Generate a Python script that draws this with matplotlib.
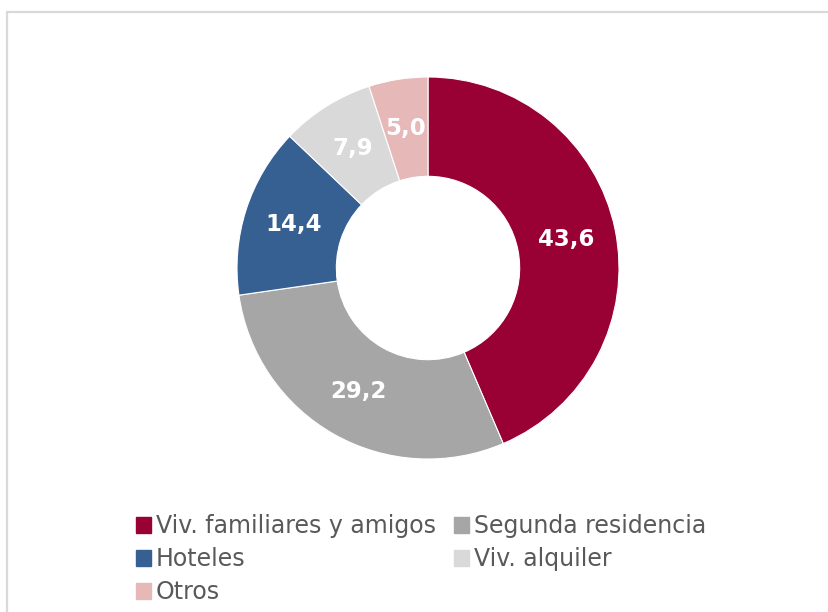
import numpy as np
import matplotlib.pyplot as plt
from matplotlib.patches import Patch, Rectangle

categories = ["Viv. familiares y amigos", "Segunda residencia", "Hoteles",
              "Viv. alquiler", "Otros"]
values = [43.6, 29.2, 14.4, 7.9, 5.0]
labels = ["43,6", "29,2", "14,4", "7,9", "5,0"]
colors = ["#990033", "#A6A6A6", "#376092", "#D9D9D9", "#E6B9B8"]

W, H = 829, 612
fig = plt.figure(figsize=(W / 100, H / 100), dpi=100)

# light grey frame, cut off at right and bottom like the source image
fig.patches.append(Rectangle((7 / W, -0.1), 1.1, 1 - 12 / H + 0.1,
                             transform=fig.transFigure, fill=False,
                             edgecolor="#D9D9D9", lw=1.6))

# donut: centre (428, 268) px, outer radius 191 px
cx, cy, r = 428, 268, 191
ax = fig.add_axes([(cx - r) / W, (H - cy - r) / H, 2 * r / W, 2 * r / H])
wedges, _ = ax.pie(values, colors=colors, startangle=90, counterclock=False,
                   radius=1, wedgeprops=dict(width=0.52, edgecolor="white",
                                             linewidth=0.8))
ax.set_xlim(-1, 1)
ax.set_ylim(-1, 1)
ax.set_aspect("equal")
ax.axis("off")

total = sum(values)
start = 90.0
for v, lab in zip(values, labels):
    ang = np.deg2rad(start - v / total * 360 / 2)
    ax.text(0.74 * np.cos(ang), 0.74 * np.sin(ang), lab, ha="center",
            va="center", color="white", fontsize=16.5, fontweight="bold")
    start -= v / total * 360

order = [0, 2, 4, 1, 3]
handles = [Patch(facecolor=colors[i], edgecolor=colors[i], joinstyle="round")
           for i in order]
fig.legend(handles, [categories[i] for i in order], ncol=2,
           loc="upper left", bbox_to_anchor=(136 / W, 1 - 514 / H),
           frameon=False, fontsize=17, labelcolor="#595959",
           handlelength=0.65, handleheight=0.65, handletextpad=0.2,
           columnspacing=0.75, labelspacing=0.38, borderpad=0,
           borderaxespad=0)

fig.savefig("out.png", dpi=100, facecolor="white")
